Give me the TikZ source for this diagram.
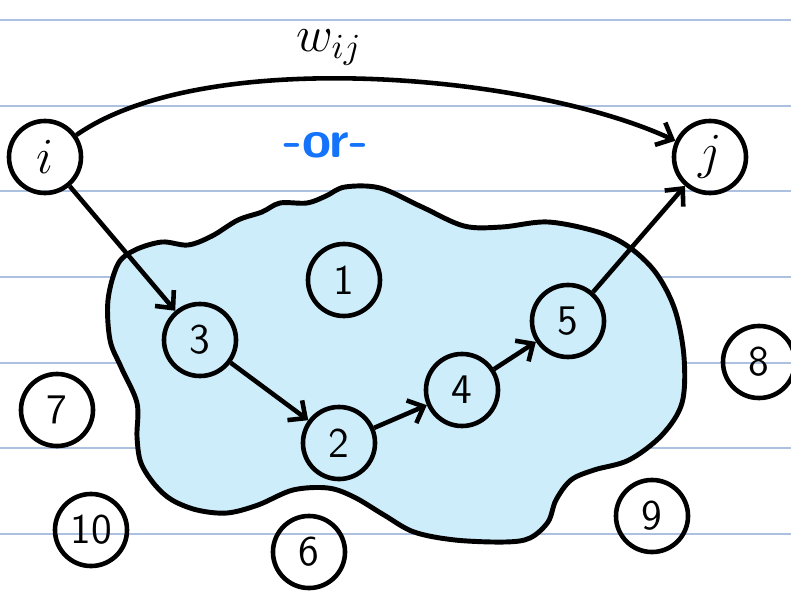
\documentclass[tikz,border=0pt]{standalone}
\usepackage{xcolor}
\usepackage{tikz}
\usetikzlibrary{arrows.meta}
\definecolor{blobblue}{RGB}{205,237,250}
\definecolor{ruleblue}{RGB}{172,192,224}
\definecolor{orblue}{RGB}{20,115,250}

\begin{document}
\begin{tikzpicture}[x=0.01cm, y=-0.01cm,
  vert/.style={circle, draw, line width=1.3pt, minimum size=0.72cm,
               inner sep=0pt, font=\large\sffamily},
  arr/.style={-{Straight Barb[length=3.8pt, width=7pt]}, line width=1.3pt},
  rule/.style={draw=ruleblue, line width=0.5pt}
]
\useasboundingbox (0,0) rectangle (791,591);
% ruled paper
\foreach \y in {20,106,191,277,363,448,534}
  \draw[rule] (0,\y) -- (791,\y);
% the blob
\draw[fill=blobblue, line width=1.4pt] plot[smooth cycle, tension=0.55] coordinates {
  (108,300) (118,264) (135,250) (162,242) (188,245) (212,236) (238,220)
  (262,212) (280,203) (307,203) (326,196) (345,187) (380,188) (422,207)
  (464,226) (502,227) (548,222) (598,232) (629,247) (656,273) (675,310)
  (684,357) (682,403) (662,435) (629,460) (594,470) (571,480) (556,500)
  (548,522) (530,538) (505,542) (455,540) (414,532) (384,515) (354,497)
  (328,488) (293,490) (258,505) (227,513) (197,510) (172,500) (155,485)
  (141,463) (137,437) (137,403) (121,367) (110,340)};

\node[vert, font=\Large] (i) at (45,157) {$i$};
\node[vert, font=\Large] (j) at (710,157) {$j$};
\node[vert] (n1) at (344,280) {1};
\node[vert] (n3) at (200,340) {3};
\node[vert] (n2) at (339,443) {2};
\node[vert] (n4) at (462,390) {4};
\node[vert] (n5) at (568,321) {5};
\node[vert] (n8) at (759,362) {8};
\node[vert] (n7) at (57,410) {7};
\node[vert] (n10) at (91,530) {10};
\node[vert] (n6) at (309,552) {6};
\node[vert] (n9) at (652,516) {9};

\node[text=orblue, font=\fontsize{15}{18}\sffamily\bfseries] (or) at (326,145) {-or-};

\draw[arr] (i) to[out=35, in=155, looseness=0.67]
  node[pos=0.44, above=2pt, inner sep=1pt, font=\Large] (wij) {$w_{ij}$} (j);
\draw[arr] (i) -- (n3);
\draw[arr] (n3) -- (n2);
\draw[arr] (n2) -- (n4);
\draw[arr] (n4) -- (n5);
\draw[arr] (n5) -- (j);
\end{tikzpicture}
\end{document}
